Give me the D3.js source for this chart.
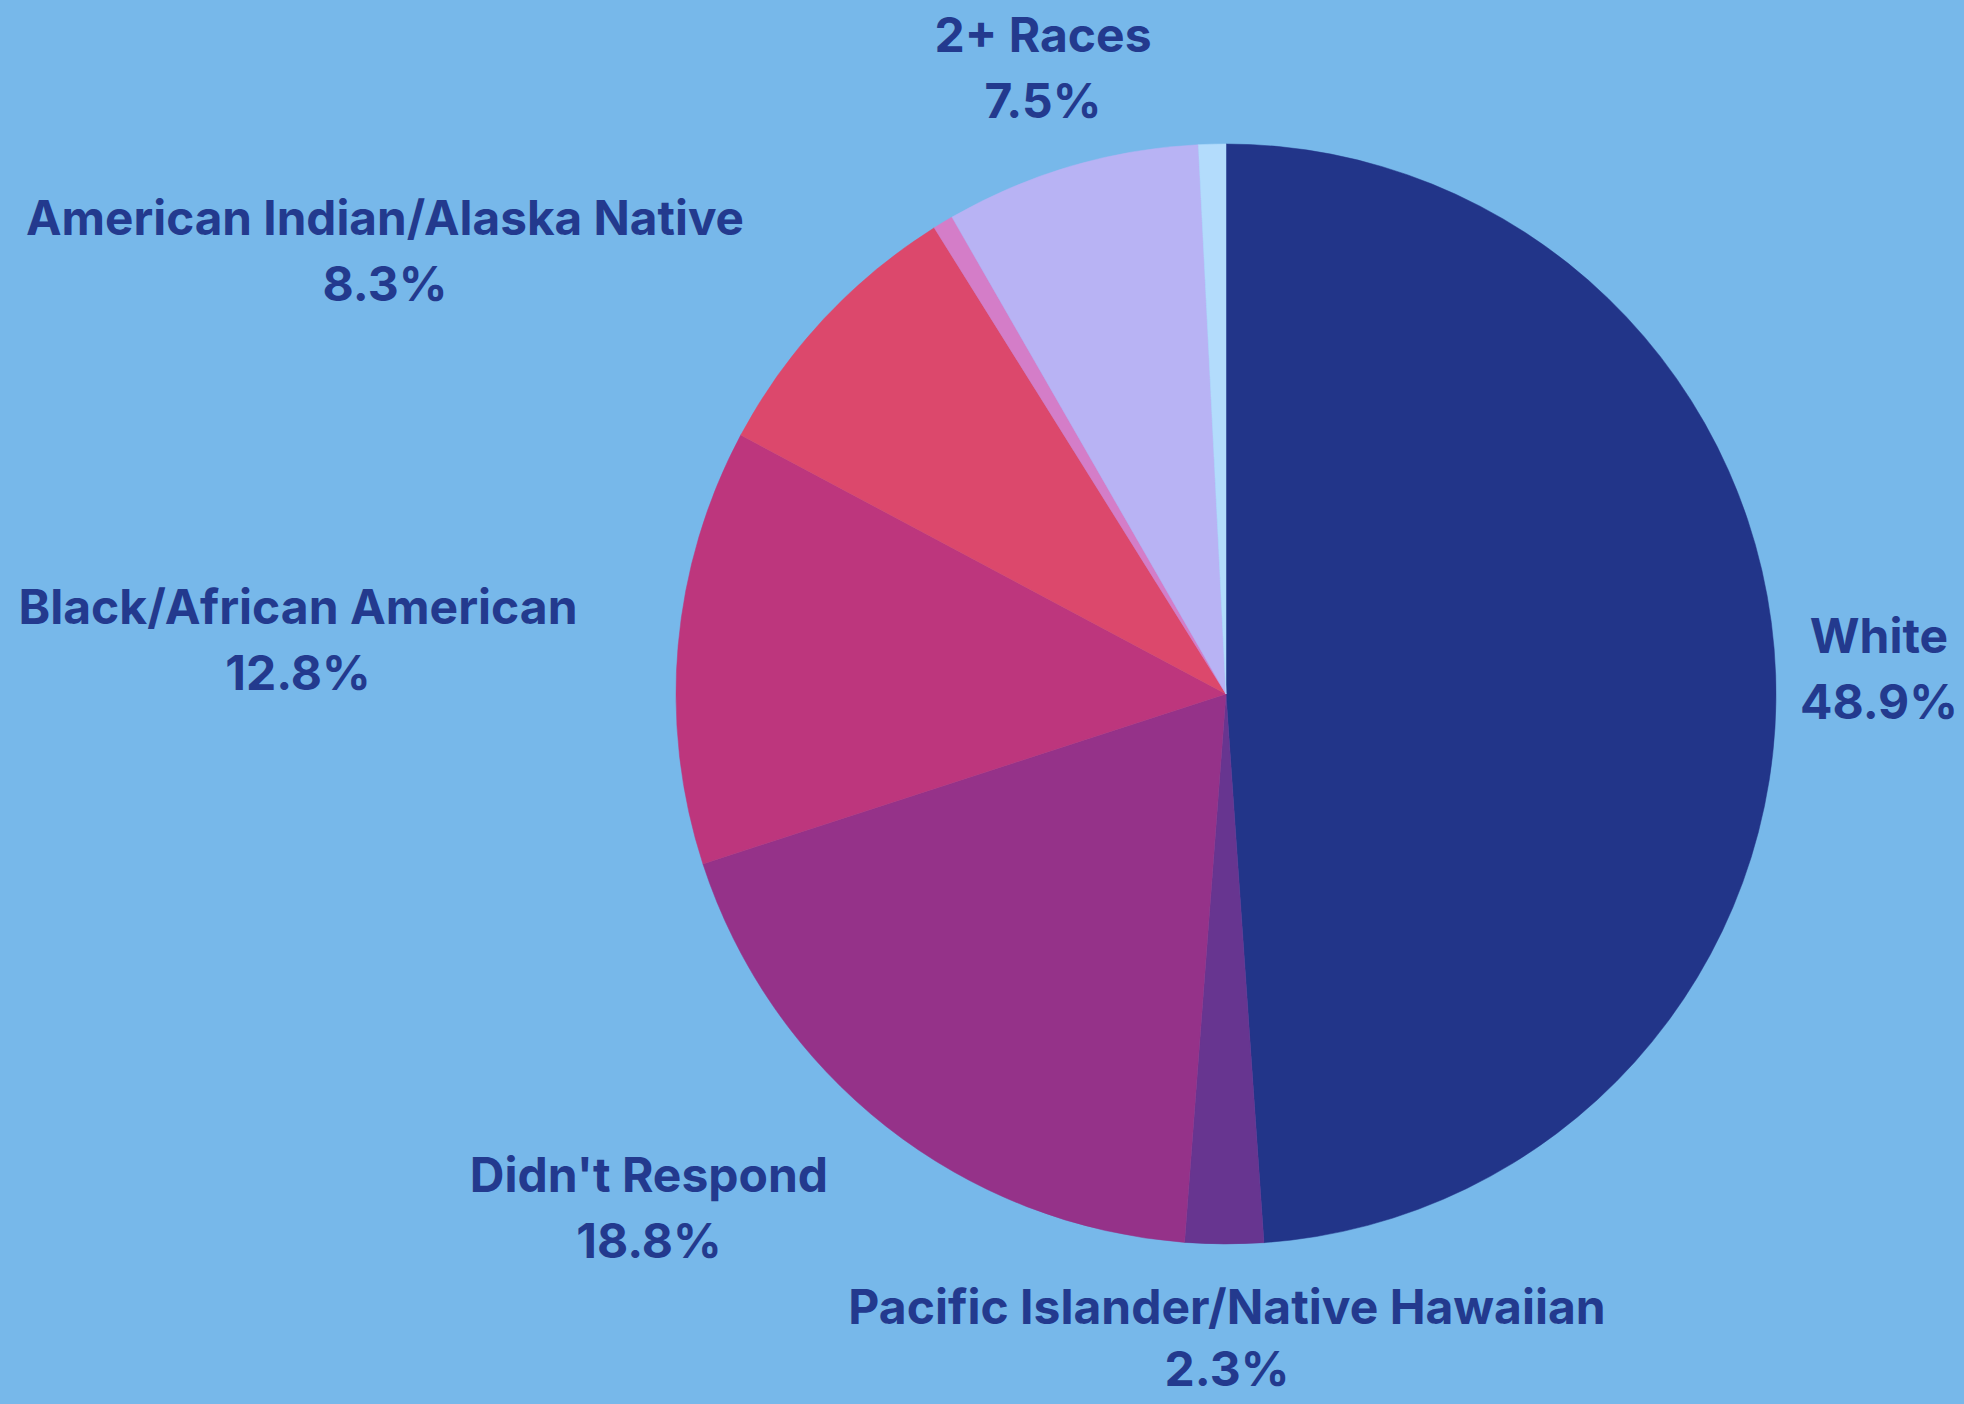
<!DOCTYPE html>
<html>
<head>
<meta charset="utf-8">
<script src="https://cdn.jsdelivr.net/npm/d3@7"></script>
<style>
	html, body { margin: 0; padding: 0; background: #77b8ea; }
	svg { display: block; }
	.lbl { font-family: Inter, 'Noto Sans', sans-serif; font-weight: 700; fill: #233a8e; }
</style>
</head>
<body>
<div id="js_chart"></div>
<script>
	'use strict';
	// chart data, clockwise from 12 o'clock
	const categories = ['White', 'Pacific Islander/Native Hawaiian', "Didn't Respond", 'Black/African American',
		'American Indian/Alaska Native', 'Asian', '2+ Races', 'Other'];
	const shares = [48.9, 2.3, 18.8, 12.8, 8.3, 0.6, 7.5, 0.8];
	const shown = [true, true, true, true, true, false, true, false];
	const colors = ['#223589', '#673590', '#953289', '#bd367d', '#dc486c', '#d47dc8', '#b8b3f4', '#b3dcfc'];

	// hand placed label anchors (centre x, first baseline)
	const labelPos = [[1879, 653], [1227, 1324], [649, 1192], [298, 624], [385, 235], null, [1043, 52], null];
	const labelFit = [0, 0, 0, 0, 718, 0, 0, 0];

	const width = 1964, height = 1404;
	const cx = 1226, cy = 694, radius = 550;
	const lineGap = 66;

	const svg = d3.select('#js_chart').append('svg')
		.attr('width', width)
		.attr('height', height);

	svg.append('rect')
		.attr('width', width).attr('height', height)
		.style('fill', '#77b8ea');

	const data = categories.map(function (c, i) {
		return { name: c, value: shares[i], color: colors[i], show: shown[i], pos: labelPos[i], fit: labelFit[i] };
	});

	const pie = d3.pie().sort(null).value(function (d) { return d.value; });
	const arc = d3.arc().innerRadius(0).outerRadius(radius);

	const g = svg.append('g')
		.attr('transform', 'translate(' + cx + ',' + cy + ')');

	g.selectAll('path')
		.data(pie(data)).enter().append('path')
		.attr('d', arc)
		.style('fill', function (d) { return d.data.color; })
		.style('stroke', function (d) { return d.data.color; })
		.style('stroke-width', 0.5);

	// labels
	const labels = svg.selectAll('.lblGroup')
		.data(data.filter(function (d) { return d.show; })).enter().append('g')
		.classed('lblGroup', true);

	labels.append('text')
		.classed('lbl', true)
		.attr('x', function (d) { return d.pos[0]; })
		.attr('y', function (d) { return d.pos[1]; })
		.attr('text-anchor', 'middle')
		.style('font-size', '48px')
		.each(function (d) {
			if (d.fit) {
				d3.select(this).attr('textLength', d.fit).attr('lengthAdjust', 'spacingAndGlyphs')
					.attr('x', d.pos[0] - d.fit / 2).attr('text-anchor', 'start');
			}
		})
		.text(function (d) { return d.name; });

	labels.append('text')
		.classed('lbl', true)
		.attr('x', function (d) { return d.pos[0]; })
		.attr('y', function (d) { return d.pos[1] + (d.name.length > 30 ? lineGap - 4 : lineGap); })
		.attr('text-anchor', 'middle')
		.style('font-size', '48px')
		.text(function (d) { return d3.format('.1f')(d.value) + '%'; });
</script>
</body>
</html>
